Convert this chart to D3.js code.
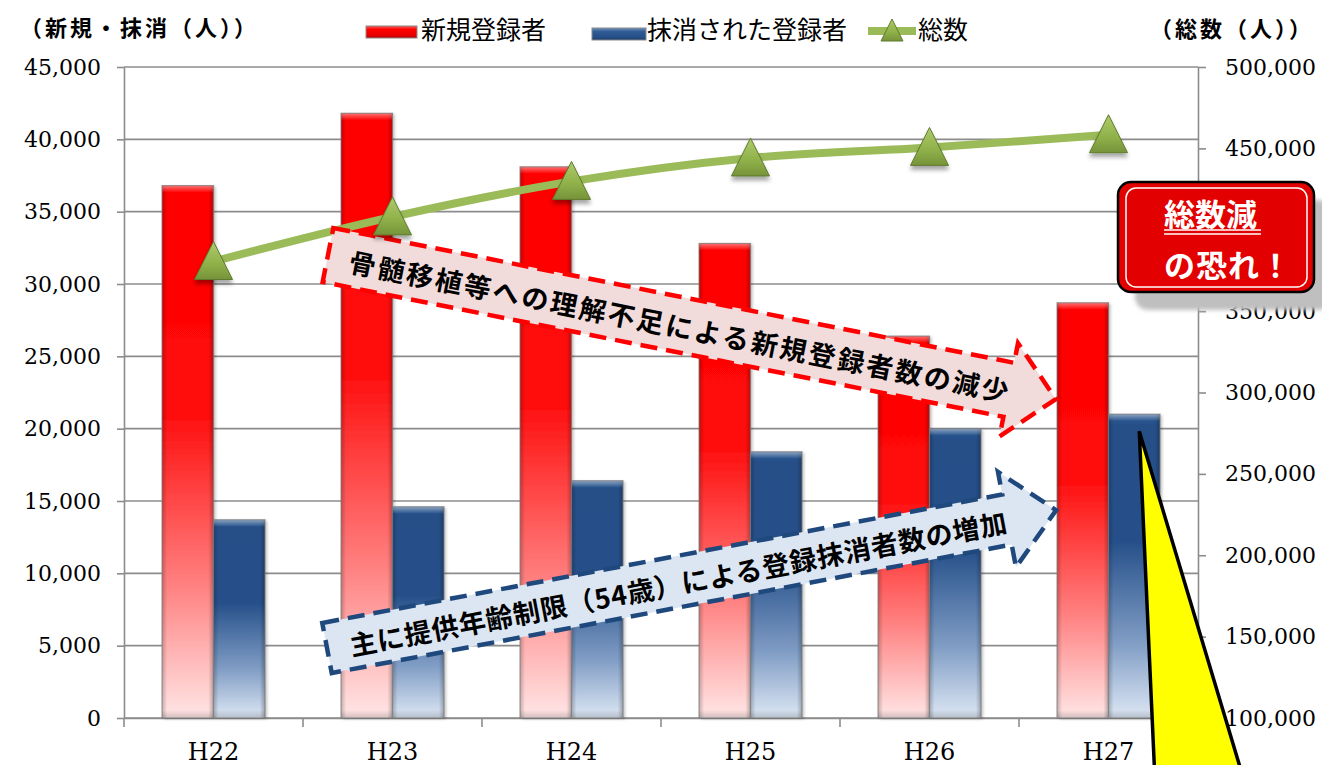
<!DOCTYPE html>
<html lang="ja">
<head>
<meta charset="utf-8">
<title>骨髄バンク登録者数の推移</title>
<script src="https://cdn.jsdelivr.net/npm/d3@7"></script>
<style>
  html, body { margin: 0; padding: 0; background: #fff; overflow: hidden; }
  #chart-container svg { display: block; }
</style>
</head>
<body>
<div id="chart-container"></div>
<script>
// Values
const categories = ['H22', 'H23', 'H24', 'H25', 'H26', 'H27']
const newRegistrants = [36800, 41800, 38100, 32800, 26400, 28700]
const removedRegistrants = [13700, 14600, 16400, 18400, 20000, 21000]
const totalRegistrants = [380500, 407900, 429700, 444100, 450600, 458400]
const leftTicks = d3.range(0, 45001, 5000)
const rightTicks = d3.range(100000, 500001, 50000)
const seriesNames = ['新規登録者', '抹消された登録者', '総数']
const leftTitle = '（新規・抹消（人））'
const rightTitle = '（総数（人））'
const redArrowText = '骨髄移植等への理解不足による新規登録者数の減少'
const blueArrowText = '主に提供年齢制限（54歳）による登録抹消者数の増加'
const calloutLines = ['総数減', 'の恐れ！']

class ComboChartPlotter {
    constructor(options) {
        this.width = options.width
        this.height = options.height
        this.margin = options.margin
        this.jpFont = '"Noto Sans CJK JP", "Noto Sans", sans-serif'
        this.numFont = '"DejaVu Serif", serif'
        this.gridColor = '#8c8c8c'

        this.#createScales()
        this.#createSvg()
    }

    plot() {
        this.#createDefs()
        this.#createGrid()
        this.#createAxes()
        this.#plotBars()
        this.#plotTotalLine()
        this.#createArrows()
        this.#plotMarkers()
        this.#createLegend()
        this.#createAxisTitles()
        this.#createCallout()
        this.#createPointer()
    }

    #createScales() {
        const m = this.margin
        this.xScale = d3.scaleBand()
            .domain(categories)
            .range([m.left, this.width - m.right])
        this.barScale = d3.scaleBand()
            .domain(['new', 'removed'])
            .range([38, this.xScale.bandwidth() - 38])
        this.yLeft = d3.scaleLinear()
            .domain([0, 45000])
            .range([this.height - m.bottom, m.top])
        this.yRight = d3.scaleLinear()
            .domain([100000, 500000])
            .range([this.height - m.bottom, m.top])
    }

    #createSvg() {
        this.svg = d3.select('#chart-container')
            .append('svg')
            .attr('width', this.width)
            .attr('height', this.height)
            .attr('viewBox', '0 0 ' + this.width + ' ' + this.height)
    }

    #linearGradient(defs, id, stops, horizontal) {
        const g = defs.append('linearGradient')
            .attr('id', id)
            .attr('x1', 0).attr('y1', 0)
            .attr('x2', horizontal ? 1 : 0).attr('y2', horizontal ? 0 : 1)
        stops.forEach(s => {
            g.append('stop')
                .attr('offset', s[0])
                .attr('stop-color', s[1])
                .attr('stop-opacity', s[2] === undefined ? 1 : s[2])
        })
    }

    #createDefs() {
        const defs = this.svg.append('defs')
        this.#linearGradient(defs, 'red-bar', [[0, '#ff0000'], [0.42, '#ff0a0a'], [0.75, '#ff8080'], [1, '#ffe6e6']])
        this.#linearGradient(defs, 'blue-bar', [[0, '#2b5891'], [0.04, '#254f88'], [0.42, '#26508a'], [0.75, '#7f9cc4'], [1, '#dde7f4']])
        this.#linearGradient(defs, 'edge-shade', [[0, '#000', 0.22], [0.1, '#000', 0], [0.9, '#000', 0], [1, '#000', 0.25]], true)
        this.#linearGradient(defs, 'top-shine', [[0, '#fff', 0.45], [1, '#fff', 0]])
        this.#linearGradient(defs, 'bottom-shade', [[0, '#000', 0], [1, '#000', 0.18]])
        this.#linearGradient(defs, 'marker-fill', [[0, '#aecb6c'], [0.6, '#8fb049'], [1, '#76933a']])
        this.#linearGradient(defs, 'legend-red', [[0, '#ff5a5a'], [0.3, '#ff0000'], [0.8, '#e60000'], [1, '#b00000']])
        this.#linearGradient(defs, 'legend-blue', [[0, '#6f90bd'], [0.3, '#2f5b94'], [0.8, '#244e86'], [1, '#1a3a66']])

        const barShadow = defs.append('filter').attr('id', 'bar-shadow')
            .attr('x', '-20%').attr('y', '-5%').attr('width', '140%').attr('height', '110%')
        barShadow.append('feDropShadow')
            .attr('dx', 2).attr('dy', 1).attr('stdDeviation', 1.5)
            .attr('flood-color', '#000').attr('flood-opacity', 0.25)

        const markerShadow = defs.append('filter').attr('id', 'marker-shadow')
            .attr('x', '-40%').attr('y', '-40%').attr('width', '180%').attr('height', '200%')
        markerShadow.append('feDropShadow')
            .attr('dx', 0).attr('dy', 4).attr('stdDeviation', 2)
            .attr('flood-color', '#000').attr('flood-opacity', 0.35)

        const blur = defs.append('filter').attr('id', 'soft-blur')
            .attr('x', '-10%').attr('y', '-10%').attr('width', '120%').attr('height', '120%')
        blur.append('feGaussianBlur').attr('stdDeviation', 2)
    }

    #createGrid() {
        const [x0, x1] = this.xScale.range()
        this.svg.append('g')
            .attr('class', 'grid')
            .selectAll('line')
            .data(leftTicks)
            .enter()
            .append('line')
            .attr('x1', x0)
            .attr('x2', x1)
            .attr('y1', d => this.yLeft(d))
            .attr('y2', d => this.yLeft(d))
            .attr('stroke', this.gridColor)
            .attr('stroke-width', 1.6)
    }

    #styleAxis(g, fontSize) {
        g.select('.domain').attr('stroke', this.gridColor).attr('stroke-width', 1.6)
        g.selectAll('.tick line').attr('stroke', this.gridColor).attr('stroke-width', 1.6)
        g.selectAll('.tick text')
            .attr('fill', '#000')
            .style('font-family', this.numFont)
            .style('font-size', fontSize + 'px')
    }

    #createAxes() {
        const m = this.margin
        const yAxis = d3.axisLeft(this.yLeft)
            .tickValues(leftTicks)
            .tickFormat(d3.format(','))
            .tickSize(7)
            .tickSizeOuter(0)
            .tickPadding(16)
        this.svg.append('g')
            .attr('id', 'y-axis-left')
            .attr('transform', 'translate(' + m.left + ',0)')
            .call(yAxis)
            .call(g => this.#styleAxis(g, 22))

        const yAxisRight = d3.axisRight(this.yRight)
            .tickValues(rightTicks)
            .tickFormat(d3.format(','))
            .tickSize(8)
            .tickSizeOuter(0)
            .tickPadding(19)
        this.svg.append('g')
            .attr('id', 'y-axis-right')
            .attr('transform', 'translate(' + (this.width - m.right) + ',0)')
            .call(yAxisRight)
            .call(g => this.#styleAxis(g, 22))

        const xAxis = d3.axisBottom(this.xScale)
            .tickSize(0)
            .tickSizeOuter(0)
            .tickPadding(25)
        const xg = this.svg.append('g')
            .attr('id', 'x-axis')
            .attr('transform', 'translate(0,' + (this.height - m.bottom) + ')')
            .call(xAxis)
            .call(g => this.#styleAxis(g, 24))

        // Tick marks sit on the category boundaries
        const bounds = categories.map(c => this.xScale(c)).concat([this.xScale.range()[1]])
        xg.selectAll('.boundary')
            .data(bounds)
            .enter()
            .append('line')
            .attr('class', 'boundary')
            .attr('x1', d => d).attr('x2', d => d)
            .attr('y1', 0).attr('y2', 9)
            .attr('stroke', this.gridColor)
            .attr('stroke-width', 1.6)
    }

    #plotBars() {
        const rows = []
        categories.forEach((c, i) => {
            rows.push({ cat: c, key: 'new', value: newRegistrants[i], fill: 'url(#red-bar)' })
            rows.push({ cat: c, key: 'removed', value: removedRegistrants[i], fill: 'url(#blue-bar)' })
        })
        const base = this.yLeft(0)
        const bw = this.barScale.bandwidth()
        const bars = this.svg.append('g')
            .attr('class', 'bars')
            .selectAll('g')
            .data(rows)
            .enter()
            .append('g')
            .attr('transform', d => 'translate(' + (this.xScale(d.cat) + this.barScale(d.key)) + ',' + this.yLeft(d.value) + ')')

        bars.append('rect')
            .attr('width', bw)
            .attr('height', d => base - this.yLeft(d.value))
            .attr('fill', d => d.fill)
            .attr('filter', 'url(#bar-shadow)')
        bars.append('rect')
            .attr('width', bw)
            .attr('height', d => base - this.yLeft(d.value))
            .attr('fill', 'url(#edge-shade)')
        bars.append('rect')
            .attr('width', bw)
            .attr('height', 7)
            .attr('fill', 'url(#top-shine)')
        bars.append('rect')
            .attr('y', d => base - this.yLeft(d.value) - 8)
            .attr('width', bw)
            .attr('height', 8)
            .attr('fill', 'url(#bottom-shade)')
        bars.append('rect')
            .attr('width', bw)
            .attr('height', d => base - this.yLeft(d.value))
            .attr('fill', 'none')
            .attr('stroke', '#7a7a7a')
            .attr('stroke-opacity', 0.7)
            .attr('stroke-width', 1.2)
    }

    #pointX(c) {
        return this.xScale(c) + this.xScale.bandwidth() / 2
    }

    #plotTotalLine() {
        const line = d3.line()
            .x((d, i) => this.#pointX(categories[i]))
            .y(d => this.yRight(d))
            .curve(d3.curveCatmullRom.alpha(0.5))
        this.svg.append('path')
            .datum(totalRegistrants)
            .attr('d', line)
            .attr('fill', 'none')
            .attr('stroke', '#9bbb59')
            .attr('stroke-width', 8)
    }

    #plotMarkers() {
        this.svg.append('g')
            .attr('class', 'markers')
            .selectAll('path')
            .data(totalRegistrants)
            .enter()
            .append('path')
            .attr('transform', (d, i) => 'translate(' + this.#pointX(categories[i]) + ',' + this.yRight(d) + ')')
            .attr('d', 'M0,-20L19,18L-19,18Z')
            .attr('fill', 'url(#marker-fill)')
            .attr('stroke', '#5f7a2e')
            .attr('stroke-width', 1)
            .attr('filter', 'url(#marker-shadow)')
    }

    #arrowPath(len, h, headH, headLen) {
        return 'M0,' + (-h / 2) + 'L' + len + ',' + (-h / 2) + 'L' + len + ',' + (-headH / 2) +
            'L' + (len + headLen) + ',0L' + len + ',' + (headH / 2) + 'L' + len + ',' + (h / 2) +
            'L0,' + (h / 2) + 'Z'
    }

    #drawArrow(a) {
        const g = this.svg.append('g')
            .attr('transform', 'translate(' + a.x + ',' + a.y + ') rotate(' + a.angle + ')')
        g.append('path')
            .attr('d', this.#arrowPath(a.len, a.h, a.headH, a.headLen))
            .attr('fill', a.fill)
            .attr('stroke', a.stroke)
            .attr('stroke-width', 4.5)
            .attr('stroke-dasharray', '17,9')
            .attr('stroke-linejoin', 'miter')
        g.append('text')
            .attr('x', a.textX)
            .attr('y', 1)
            .attr('dominant-baseline', 'central')
            .attr('textLength', a.textLen)
            .attr('lengthAdjust', 'spacing')
            .style('font-family', this.jpFont)
            .style('font-weight', 700)
            .style('font-size', a.fontSize + 'px')
            .attr('fill', '#000')
            .text(a.text)
    }

    #createArrows() {
        this.#drawArrow({
            x: 328, y: 255, angle: 11.2, len: 694, h: 55, headH: 95, headLen: 48,
            fill: '#f2dcdb', stroke: '#ff0000',
            text: redArrowText, textX: 22, textLen: 672, fontSize: 27
        })
        this.#drawArrow({
            x: 327, y: 648, angle: -10.7, len: 692, h: 51, headH: 97, headLen: 50,
            fill: '#dce6f2', stroke: '#1f497d',
            text: blueArrowText, textX: 23, textLen: 668, fontSize: 27
        })
    }

    #createLegend() {
        const legend = this.svg.append('g').attr('id', 'legend')
        const textStyle = sel => sel
            .attr('dominant-baseline', 'central')
            .style('font-family', this.jpFont)
            .style('font-size', '25px')
            .attr('fill', '#000')

        legend.append('rect')
            .attr('x', 366).attr('y', 26).attr('width', 51).attr('height', 12)
            .attr('fill', 'url(#legend-red)').attr('stroke', '#8a8a8a').attr('stroke-width', 1)
        legend.append('text').attr('x', 421).attr('y', 28).text(seriesNames[0]).call(textStyle)

        legend.append('rect')
            .attr('x', 592).attr('y', 28).attr('width', 54).attr('height', 12)
            .attr('fill', 'url(#legend-blue)').attr('stroke', '#8a8a8a').attr('stroke-width', 1)
        legend.append('text').attr('x', 647).attr('y', 28).text(seriesNames[1]).call(textStyle)

        legend.append('line')
            .attr('x1', 868).attr('x2', 916).attr('y1', 31).attr('y2', 31)
            .attr('stroke', '#9bbb59').attr('stroke-width', 8)
        legend.append('path')
            .attr('transform', 'translate(892,31)')
            .attr('d', 'M0,-12L11,10L-11,10Z')
            .attr('fill', 'url(#marker-fill)')
            .attr('stroke', '#5f7a2e')
            .attr('stroke-width', 1)
        legend.append('text').attr('x', 918).attr('y', 28).text(seriesNames[2]).call(textStyle)
    }

    #createAxisTitles() {
        const style = sel => sel
            .attr('dominant-baseline', 'central')
            .style('font-family', this.jpFont)
            .style('font-weight', 700)
            .style('font-size', '22px')
            .attr('fill', '#000')
        this.svg.append('text')
            .attr('x', 20).attr('y', 26)
            .attr('textLength', 236)
            .text(leftTitle)
            .call(style)
        this.svg.append('text')
            .attr('x', 1150).attr('y', 27)
            .attr('textLength', 161)
            .text(rightTitle)
            .call(style)
    }

    #createCallout() {
        const g = this.svg.append('g').attr('id', 'callout')
        g.append('rect')
            .attr('x', 1135).attr('y', 200).attr('width', 196).attr('height', 110).attr('rx', 13)
            .attr('fill', '#bfbfbf')
            .attr('filter', 'url(#soft-blur)')
        g.append('rect')
            .attr('x', 1118).attr('y', 182).attr('width', 196).attr('height', 110).attr('rx', 13)
            .attr('fill', '#e30000')
            .attr('stroke', '#000')
            .attr('stroke-width', 2.5)
        g.append('rect')
            .attr('x', 1126).attr('y', 188).attr('width', 181).attr('height', 99).attr('rx', 10)
            .attr('fill', 'none')
            .attr('stroke', '#fff')
            .attr('stroke-width', 1.5)

        const style = sel => sel
            .attr('dominant-baseline', 'central')
            .style('font-family', this.jpFont)
            .style('font-weight', 700)
            .style('font-size', '31px')
            .attr('fill', '#fff')
        g.append('text').attr('x', 1164).attr('y', 212).text(calloutLines[0]).call(style)
        g.append('text').attr('x', 1164).attr('y', 263).attr('letter-spacing', 1).text(calloutLines[1]).call(style)
        ;[230, 234].forEach(y => {
            g.append('line')
                .attr('x1', 1164).attr('x2', 1261).attr('y1', y).attr('y2', y)
                .attr('stroke', '#fff').attr('stroke-width', 1.5)
        })
    }

    #createPointer() {
        // Yellow wedge anchored on the latest removed-registrant bar
        const last = categories.length - 1
        const tipX = this.xScale(categories[last]) + this.barScale('removed') + this.barScale.bandwidth() / 2 + 5
        const tipY = this.yLeft(removedRegistrants[last]) + 17
        const bottom = this.height + 40
        const spread = bottom - tipY
        const pts = [[tipX, tipY], [tipX + spread * 0.045, bottom], [tipX + spread * 0.3, bottom]]
        this.svg.append('path')
            .attr('d', 'M' + pts.map(p => p.join(',')).join('L') + 'Z')
            .attr('fill', '#ffff00')
            .attr('stroke', '#000')
            .attr('stroke-width', 3.5)
            .attr('stroke-linejoin', 'miter')
    }
}

new ComboChartPlotter({
    width: 1322,
    height: 765,
    margin: { top: 67, right: 124, bottom: 47, left: 124 }
}).plot()
</script>
</body>
</html>
